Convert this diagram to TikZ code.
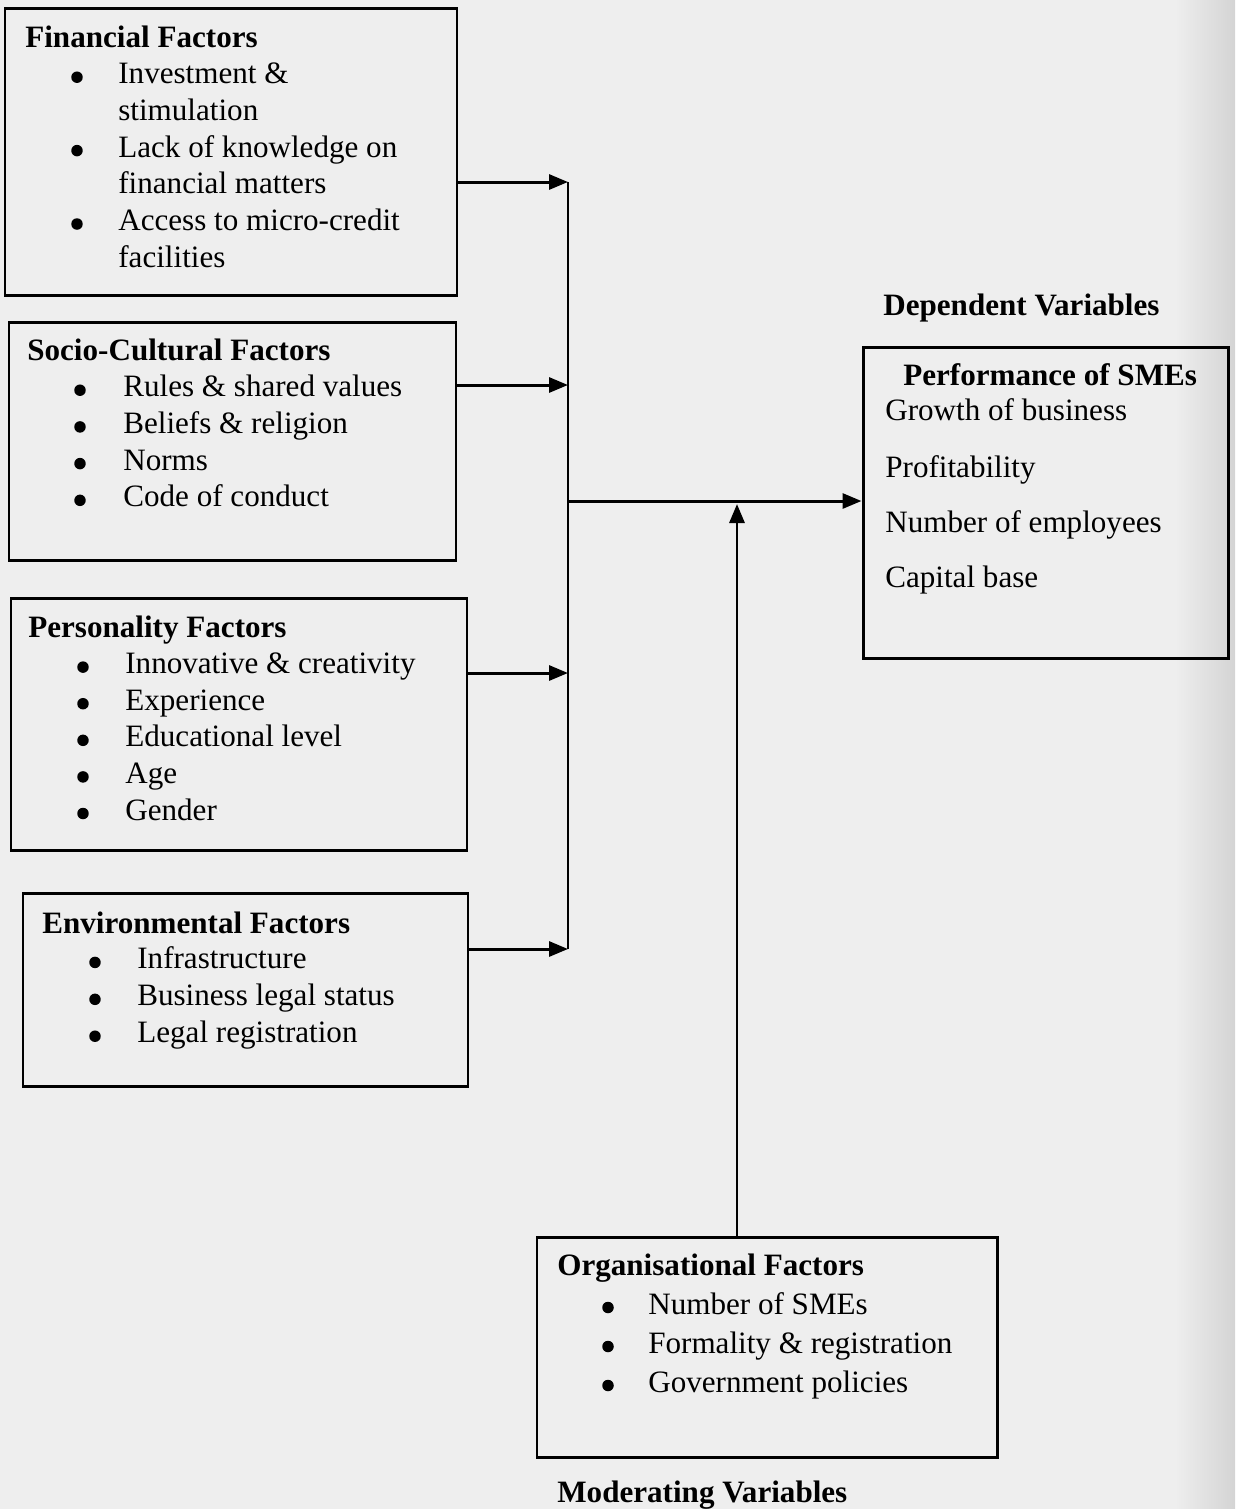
\documentclass[tikz,border=0pt]{standalone}
\usepackage{fontspec}
\setmainfont{Liberation Serif}
\usetikzlibrary{positioning,fit,arrows.meta}

\definecolor{pagegray}{RGB}{238,238,238}
\definecolor{edgegray}{RGB}{212,212,212}
\newcommand{\dgmfont}{\fontsize{17.7}{21}\selectfont}

\tikzset{
  box/.style={draw, line width=1.7pt, inner sep=0pt},
  head/.style={anchor=base west, inner sep=0pt, font=\dgmfont\bfseries},
  entry/.style={anchor=base west, inner sep=0pt, font=\dgmfont},
  dot/.style={circle, fill, inner sep=0pt, minimum size=0.23cm},
  link/.style={line width=1.7pt},
  arr/.style={link, -{Triangle[length=0.38cm,width=0.3cm]}},
}

\begin{document}
\begin{tikzpicture}[x=0.02cm, y=-0.02cm]
  \fill[pagegray] (0,0) rectangle (1235,1509);
  \shade[left color=pagegray, right color=edgegray] (1175,0) rectangle (1235,1509);
  \useasboundingbox (0,0) rectangle (1235,1509);

  % financial factors
  \node[box, fit={(5,8) (457,295)}] (fin) {};
  \node[head] (fin-h) at (25,47) {Financial Factors};
  \foreach \t [count=\i] in {Investment \&, stimulation, Lack of knowledge on,
      financial matters, Access to micro-credit, facilities}
    \node[entry] (fin-\i) at (118,{47+36.7*\i}) {\t};
  \foreach \i in {1,3,5}
    \node[dot] (fin-b\i) at (77,{40.5+36.7*\i}) {};

  % socio-cultural factors
  \node[box, fit={(9,322) (456,560)}] (soc) {};
  \node[head] (soc-h) at (27,360) {Socio-Cultural Factors};
  \foreach \t [count=\i] in {Rules \& shared values, Beliefs \& religion, Norms,
      Code of conduct} {
    \node[dot] (soc-b\i) at (80,{353.5+36.7*\i}) {};
    \node[entry] (soc-\i) at (123,{360+36.7*\i}) {\t};
  }

  % personality factors
  \node[box, fit={(11,598) (467,850)}] (per) {};
  \node[head] (per-h) at (28,637) {Personality Factors};
  \foreach \t [count=\i] in {Innovative \& creativity, Experience,
      Educational level, Age, Gender} {
    \node[dot] (per-b\i) at (83,{630.5+36.6*\i}) {};
    \node[entry] (per-\i) at (125,{637+36.6*\i}) {\t};
  }

  % environmental factors
  \node[box, fit={(23,893) (468,1086)}] (env) {};
  \node[head] (env-h) at (42,933) {Environmental Factors};
  \foreach \t [count=\i] in {Infrastructure, Business legal status,
      Legal registration} {
    \node[dot] (env-b\i) at (95,{925.5+36.9*\i}) {};
    \node[entry] (env-\i) at (137,{932+36.9*\i}) {\t};
  }

  % dependent variable
  \node[head] (dep) at (883,315) {Dependent Variables};
  \node[box, fit={(863,347) (1228,658)}] (perf) {};
  \node[head] (perf-h) at (903,385) {Performance of SMEs};
  \node[entry] (perf-1) at (885,420) {Growth of business};
  \node[entry] (perf-2) at (885,477) {Profitability};
  \node[entry] (perf-3) at (885,532) {Number of employees};
  \node[entry] (perf-4) at (885,587) {Capital base};

  % moderating variable
  \node[box, fit={(537,1237) (997,1457)}] (org) {};
  \node[head] (org-h) at (557,1275) {Organisational Factors};
  \foreach \t [count=\i] in {Number of SMEs, Formality \& registration,
      Government policies} {
    \node[dot] (org-b\i) at (608,{1268.5+39*\i}) {};
    \node[entry] (org-\i) at (648,{1275+39*\i}) {\t};
  }
  \node[head] (mod) at (557,1502) {Moderating Variables};

  % connectors
  \coordinate (jfin) at (568,182);
  \coordinate (jsoc) at (568,385);
  \coordinate (jper) at (568,673);
  \coordinate (jenv) at (568,949);
  \coordinate (jmid) at (568,501);
  \coordinate (jorg) at (737,504);
  \draw[arr] (fin.east |- jfin) -- (jfin);
  \draw[arr] (soc.east |- jsoc) -- (jsoc);
  \draw[arr] (per.east |- jper) -- (jper);
  \draw[arr] (env.east |- jenv) -- (jenv);
  \draw[link] (jfin) -- (jenv);
  \draw[arr] (jmid) -- (perf.west |- jmid);
  \draw[arr] (org.north -| jorg) -- (jorg);
\end{tikzpicture}
\end{document}
